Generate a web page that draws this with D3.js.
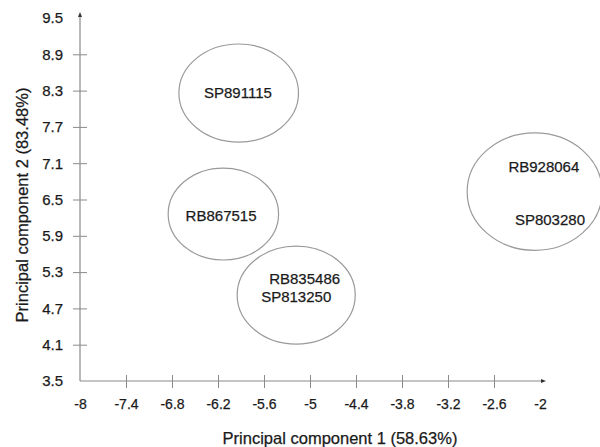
<!DOCTYPE html>
<html>
<head>
	<meta charset="utf-8">
	<style>
		body { margin: 0; background: #fff; }
		text { font-family: "Liberation Sans", Arial, sans-serif; fill: #1a1a1a; stroke: #1a1a1a; stroke-width: 0.25px; }
	</style>
</head>
<body>
<div id="chartContainer"></div>
<script src="https://d3js.org/d3.v7.min.js"></script>
<script>

// Data
var xTicks = [-8, -7.4, -6.8, -6.2, -5.6, -5, -4.4, -3.8, -3.2, -2.6, -2];
var yTicks = [3.5, 4.1, 4.7, 5.3, 5.9, 6.5, 7.1, 7.7, 8.3, 8.9, 9.5];

// cluster ellipses (centre and radii in data units)
var clusterX  = [-5.93, -6.13, -5.18, -2.07];
var clusterY  = [8.26, 6.26, 4.92, 6.63];
var clusterRx = [0.78, 0.72, 0.77, 0.88];
var clusterRy = [0.81, 0.76, 0.81, 0.97];

// sample labels
var sampleNames = ["SP891115", "RB867515", "RB835486", "SP813250", "RB928064", "SP803280"];
var sampleX = [-5.94, -6.16, -5.07, -5.18, -1.95, -1.87];
var sampleY = [8.26, 6.23, 5.19, 4.90, 7.04, 6.16];

// Chart size and margins
var width = 600, height = 447;
var margin = {top: 18, left: 80};
var plot = {width: 460, height: 363};

var svg = d3.select("#chartContainer").append("svg")
	.attr("width", width).attr("height", height);

var x = d3.scaleLinear().domain([-8, -2]).range([margin.left, margin.left + plot.width]);
var y = d3.scaleLinear().domain([3.5, 9.5]).range([margin.top + plot.height, margin.top]);

var axisColor = "#8a8a8a";
var plain = function(d) { return String(d); }; // keep ascii hyphen for negatives

// ellipses
svg.append("g").selectAll("ellipse")
	.data(clusterX)
	.enter().append("ellipse")
	.attr("cx", function(d) { return x(d); })
	.attr("cy", function(d, i) { return y(clusterY[i]); })
	.attr("rx", function(d, i) { return x(d + clusterRx[i]) - x(d); })
	.attr("ry", function(d, i) { return y(clusterY[i]) - y(clusterY[i] + clusterRy[i]); })
	.attr("fill", "none")
	.attr("stroke", "#9a9a9a")
	.attr("stroke-width", 1.2);

// sample names
svg.append("g").selectAll("text")
	.data(sampleNames)
	.enter().append("text")
	.attr("x", function(d, i) { return x(sampleX[i]); })
	.attr("y", function(d, i) { return y(sampleY[i]); })
	.attr("dy", "0.35em")
	.attr("text-anchor", "middle")
	.style("font-size", "15px")
	.text(function(d) { return d; });

// x axis ticks (cross the axis line)
var xAxis = svg.append("g")
	.attr("transform", "translate(0," + y(3.5) + ")")
	.call(d3.axisBottom(x).tickValues(xTicks.slice(1, -1)).tickSize(0).tickFormat(""));
xAxis.selectAll(".tick").append("line")
	.attr("y1", -6).attr("y2", 7).attr("stroke", axisColor);
xAxis.select(".domain").remove();

var xLab = svg.append("g")
	.attr("transform", "translate(0," + y(3.5) + ")")
	.call(d3.axisBottom(x).tickValues(xTicks).tickSize(0).tickPadding(18).tickFormat(plain));
xLab.select(".domain").remove();
xLab.selectAll("text").style("font-size", "14px").attr("fill", "#1a1a1a");

// y axis
var yAxis = svg.append("g")
	.attr("transform", "translate(" + x(-8) + ",0)")
	.call(d3.axisLeft(y).tickValues(yTicks.slice(1, -1)).tickSize(0).tickFormat(""));
yAxis.selectAll(".tick").append("line")
	.attr("x1", -7).attr("x2", 7).attr("stroke", axisColor);
yAxis.select(".domain").remove();

var yLab = svg.append("g")
	.attr("transform", "translate(" + x(-8) + ",0)")
	.call(d3.axisLeft(y).tickValues(yTicks).tickSize(0).tickPadding(17).tickFormat(plain));
yLab.select(".domain").remove();
yLab.selectAll("text").style("font-size", "15px").attr("fill", "#1a1a1a");

// axis lines with small arrow heads
svg.append("line")
	.attr("x1", x(-8)).attr("y1", y(3.5)).attr("x2", x(-2) + 3).attr("y2", y(3.5))
	.attr("stroke", axisColor).attr("stroke-width", 1.2);
svg.append("line")
	.attr("x1", x(-8)).attr("y1", y(3.5)).attr("x2", x(-8)).attr("y2", y(9.5) - 3)
	.attr("stroke", axisColor).attr("stroke-width", 1.2);
svg.append("path")
	.attr("d", "M" + (x(-2) + 6) + "," + y(3.5) + "l-5,-2l0,4z")
	.attr("fill", "#333");
svg.append("path")
	.attr("d", "M" + x(-8) + "," + (y(9.5) - 6) + "l-2,5l4,0z")
	.attr("fill", "#333");

// axis titles
svg.append("text")
	.attr("x", 340).attr("y", 438)
	.attr("dy", "0.35em")
	.attr("text-anchor", "middle")
	.style("font-size", "16.5px")
	.text("Principal component 1 (58.63%)");

svg.append("text")
	.attr("transform", "translate(22,205) rotate(-90)")
	.attr("dy", "0.35em")
	.attr("text-anchor", "middle")
	.style("font-size", "16.5px")
	.text("Principal component 2 (83.48%)");

</script>
</body>
</html>
